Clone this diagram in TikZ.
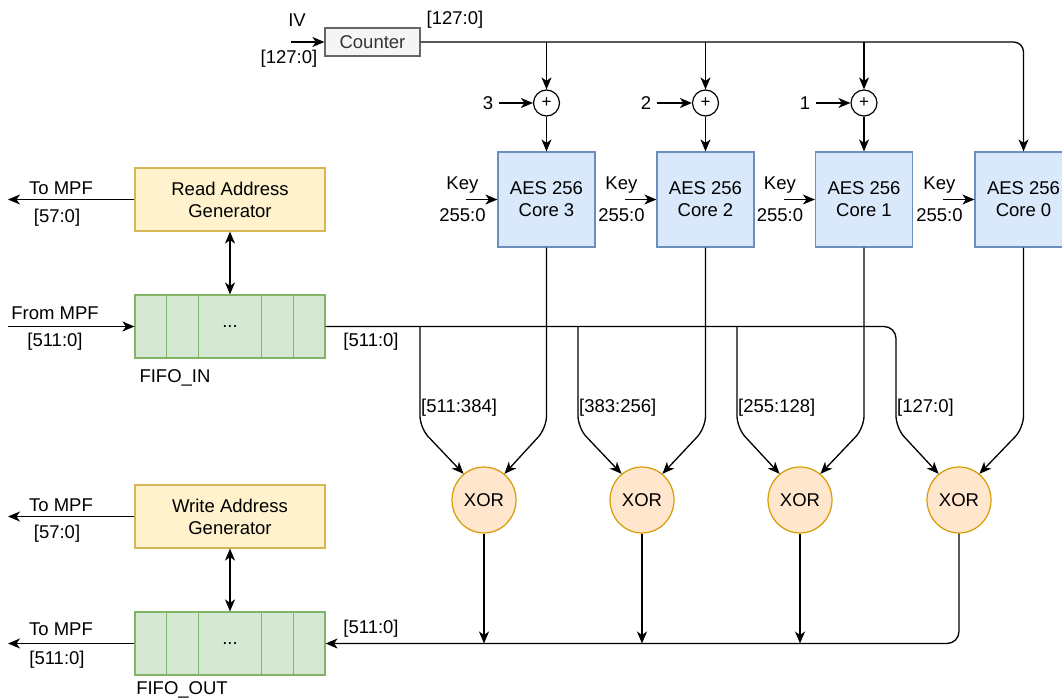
\documentclass[tikz,border=0pt]{standalone}
\usepackage{fontspec}
\setmainfont{Liberation Sans}
\usetikzlibrary{arrows.meta,shapes.geometric}
\definecolor{yfill}{HTML}{FFF2CC}\definecolor{ydraw}{HTML}{D6B656}
\definecolor{gfill}{HTML}{D5E8D4}\definecolor{gdraw}{HTML}{82B366}
\definecolor{bfill}{HTML}{DAE8FC}\definecolor{bdraw}{HTML}{6C8EBF}
\definecolor{ofill}{HTML}{FFE6CC}\definecolor{odraw}{HTML}{D79B00}
\definecolor{cfill}{HTML}{F5F5F5}\definecolor{cdraw}{HTML}{666666}\definecolor{ctext}{HTML}{333333}
\begin{document}
\begin{tikzpicture}[x=1pt,y=-1pt,
  every node/.style={font=\fontsize{18.5}{22}\selectfont, inner sep=0pt},
  arr/.style={line width=1.3pt, -{Stealth[length=12pt,width=10pt,inset=3.5pt]}},
  barr/.style={line width=1.3pt, {Stealth[length=12pt,width=10pt,inset=3.5pt]}-{Stealth[length=12pt,width=10pt,inset=3.5pt]}},
  gen/.style={draw=ydraw, fill=yfill, line width=1.2pt, minimum width=190pt, minimum height=63pt, align=center},
  fifo/.style={draw=gdraw, fill=gfill, line width=1.2pt, minimum width=190pt, minimum height=63pt},
  aes/.style={draw=bdraw, fill=bfill, line width=1.2pt, minimum width=97pt, minimum height=95pt, align=center},
  xorn/.style={ellipse, draw=odraw, fill=ofill, line width=1.2pt, minimum width=64pt, minimum height=66pt},
  addn/.style={circle, draw, line width=1.2pt, minimum size=26pt, font=\fontsize{17}{18}\selectfont},
  cnt/.style={draw=cdraw, fill=cfill, line width=1.2pt, minimum width=95pt, minimum height=28pt, text=ctext}
]
\clip (0,0) rectangle (1062,700);
\useasboundingbox (0,0) rectangle (1062,700);

% counter
\node[cnt] (counter) at (372.5,42) {Counter};
\coordinate (ivin) at (291,42);
\node at (297,20) {IV};
\node at (289,59) {[127:0]};
\node at (455,20) {[127:0]};
\draw[arr] (ivin) -- (counter.west);

% adders
\node[addn] (add3) at (546.5,103) {+};
\node[addn] (add2) at (705.5,103) {+};
\node[addn] (add1) at (864,103) {+};
\node (n3) at (488,103) {3};
\node (n2) at (646,103) {2};
\node (n1) at (805,103) {1};
\draw[arr] (n3.east)++(6,0) -- (add3.west);
\draw[arr] (n2.east)++(6,0) -- (add2.west);
\draw[arr] (n1.east)++(6,0) -- (add1.west);

% AES cores
\node[aes] (core3) at (546.5,199.5) {AES 256\\Core 3};
\node[aes] (core2) at (705.5,199.5) {AES 256\\Core 2};
\node[aes] (core1) at (864,199.5) {AES 256\\Core 1};
\node[aes] (core0) at (1023.5,199.5) {AES 256\\Core 0};

% counter bus
\draw[arr, rounded corners=10pt] (counter.east) -| (core0.north);
\coordinate (b3) at (add3 |- counter.east);
\coordinate (b2) at (add2 |- counter.east);
\coordinate (b1) at (add1 |- counter.east);
\draw[arr] (b3) -- (add3.north);
\draw[arr] (b2) -- (add2.north);
\draw[arr] (b1) -- (add1.north);
\draw[arr] (add3.south) -- (core3.north);
\draw[arr] (add2.south) -- (core2.north);
\draw[arr] (add1.south) -- (core1.north);

% keys
\foreach \c/\k in {core3/k3,core2/k2,core1/k1,core0/k0}{
  \coordinate (\k) at ([xshift=-31pt]\c.west);
  \draw[arr] (\k) -- (\c.west);
  \node at ([xshift=-35pt,yshift=14pt]\c.west) {Key};
  \node at ([xshift=-35pt,yshift=-16pt]\c.west) {255:0};
}

% generators and fifos
\node[gen] (rag) at (230,199.5) {Read Address\\Generator};
\node[gen] (wag) at (230,516.5) {Write Address\\Generator};
\node[fifo] (fin) at (230,326.5) {...};
\node[fifo] (fout) at (230,643.5) {...};
\foreach \f in {fin,fout}{
  \foreach \d in {32,64,127,159}{
    \draw[draw=gdraw, line width=1.2pt] ([xshift=\d pt]\f.north west) -- ([xshift=\d pt]\f.south west);
  }
}
\node at (175,378) {FIFO\_IN};
\node at (182,690) {FIFO\_OUT};
\draw[barr] (rag.south) -- (fin.north);
\draw[barr] (wag.south) -- (fout.north);

% left IO
\coordinate (o1) at (8,199.5);
\coordinate (i1) at (8,326.5);
\coordinate (o2) at (8,516.5);
\coordinate (o3) at (8,643.5);
\draw[arr] (rag.west) -- (o1);
\draw[arr] (i1) -- (fin.west);
\draw[arr] (wag.west) -- (o2);
\draw[arr] (fout.west) -- (o3);
\node at (61,188) {To MPF};
\node at (57,218) {[57:0]};
\node at (55,313) {From MPF};
\node at (55,342) {[511:0]};
\node at (61,505) {To MPF};
\node at (57,534) {[57:0]};
\node at (61,629) {To MPF};
\node at (57,660) {[511:0]};

% XORs
\node[xorn] (x3) at (484,500) {XOR};
\node[xorn] (x2) at (642,500) {XOR};
\node[xorn] (x1) at (800,500) {XOR};
\node[xorn] (x0) at (959,500) {XOR};

% input bus
\draw[arr, rounded corners=12pt] (fin.east) -| (896,428) -- (x0.128);
\draw[arr, rounded corners=12pt] (420,326.5) -- (420,428) -- (x3.128);
\draw[arr, rounded corners=12pt] (578,326.5) -- (578,428) -- (x2.128);
\draw[arr, rounded corners=12pt] (737,326.5) -- (737,428) -- (x1.128);
\node at (371,342) {[511:0]};
\node[anchor=west] at (421,408) {[511:384]};
\node[anchor=west] at (579,408) {[383:256]};
\node[anchor=west] at (738,408) {[255:128]};
\node[anchor=west] at (897,408) {[127:0]};

% AES outputs
\draw[arr, rounded corners=12pt] (core3.south) -- (546.5,428) -- (x3.52);
\draw[arr, rounded corners=12pt] (core2.south) -- (705.5,428) -- (x2.52);
\draw[arr, rounded corners=12pt] (core1.south) -- (864,428) -- (x1.52);
\draw[arr, rounded corners=12pt] (core0.south) -- (1023.5,428) -- (x0.52);

% output bus
\draw[arr, rounded corners=12pt] (x0.south) |- (fout.east);
\draw[arr] (x3.south) -- (x3.south |- fout.east);
\draw[arr] (x2.south) -- (x2.south |- fout.east);
\draw[arr] (x1.south) -- (x1.south |- fout.east);
\node at (371,629) {[511:0]};
\end{tikzpicture}
\end{document}
